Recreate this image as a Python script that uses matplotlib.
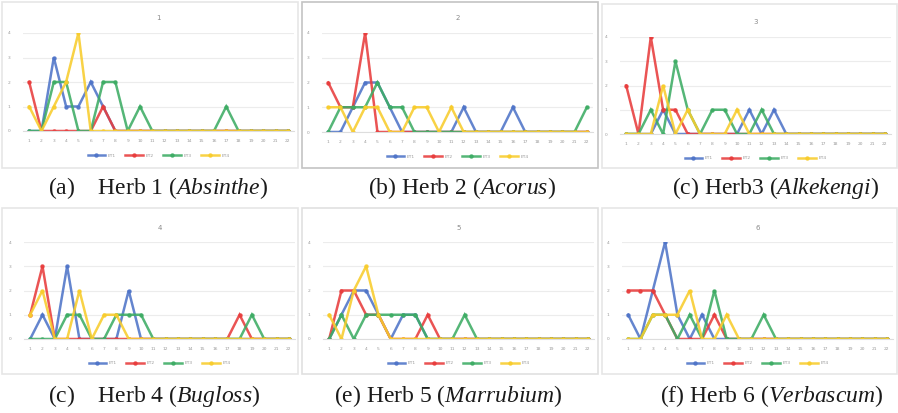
import matplotlib
matplotlib.use("Agg")
import matplotlib.pyplot as plt
from matplotlib.patches import Rectangle

plt.rcParams["font.family"] = ["DejaVu Sans"]
plt.rcParams["mathtext.fontset"] = "custom"
plt.rcParams["mathtext.rm"] = "Liberation Serif"
plt.rcParams["mathtext.it"] = "Liberation Serif:italic"

# Category labels along the x axis (22 sampling points)
x_labels = ["1", "2", "3", "4", "5", "6", "7", "8", "9", "10", "11",
            "12", "13", "14", "15", "16", "17", "18", "19", "20", "21", "22"]
series_names = ["ET1", "ET2", "ET3", "ET4"]

# Herb 1 (Absinthe)
h1_blue = [0, 0, 3, 1, 1, 2, 1, 0, 0, 0, 0, 0, 0, 0, 0, 0, 0, 0, 0, 0, 0, 0]
h1_red = [2, 0, 0, 0, 0, 0, 1, 0, 0, 0, 0, 0, 0, 0, 0, 0, 0, 0, 0, 0, 0, 0]
h1_green = [0, 0, 2, 2, 0, 0, 2, 2, 0, 1, 0, 0, 0, 0, 0, 0, 1, 0, 0, 0, 0, 0]
h1_yellow = [1, 0, 1, 2, 4, 0, 0, 0, 0, 0, 0, 0, 0, 0, 0, 0, 0, 0, 0, 0, 0, 0]

# Herb 2 (Acorus)
h2_blue = [0, 0, 1, 2, 2, 1, 0, 0, 0, 0, 0, 1, 0, 0, 0, 1, 0, 0, 0, 0, 0, 0]
h2_red = [2, 1, 1, 4, 0, 0, 0, 0, 0, 0, 0, 0, 0, 0, 0, 0, 0, 0, 0, 0, 0, 0]
h2_green = [0, 1, 1, 1, 2, 1, 1, 0, 0, 0, 0, 0, 0, 0, 0, 0, 0, 0, 0, 0, 0, 1]
h2_yellow = [1, 1, 0, 1, 1, 0, 0, 1, 1, 0, 1, 0, 0, 0, 0, 0, 0, 0, 0, 0, 0, 0]

# Herb 3 (Alkekengi)
h3_blue = [0, 0, 0, 1, 0, 0, 0, 0, 0, 0, 1, 0, 1, 0, 0, 0, 0, 0, 0, 0, 0, 0]
h3_red = [2, 0, 4, 1, 1, 0, 0, 0, 0, 0, 0, 0, 0, 0, 0, 0, 0, 0, 0, 0, 0, 0]
h3_green = [0, 0, 1, 0, 3, 1, 0, 1, 1, 0, 0, 1, 0, 0, 0, 0, 0, 0, 0, 0, 0, 0]
h3_yellow = [0, 0, 0, 2, 0, 1, 0, 0, 0, 1, 0, 0, 0, 0, 0, 0, 0, 0, 0, 0, 0, 0]

# Herb 4 (Bugloss)
h4_blue = [0, 1, 0, 3, 0, 0, 0, 0, 2, 0, 0, 0, 0, 0, 0, 0, 0, 0, 0, 0, 0, 0]
h4_red = [1, 3, 0, 0, 0, 0, 0, 0, 0, 0, 0, 0, 0, 0, 0, 0, 0, 1, 0, 0, 0, 0]
h4_green = [0, 0, 0, 1, 1, 0, 0, 1, 1, 1, 0, 0, 0, 0, 0, 0, 0, 0, 1, 0, 0, 0]
h4_yellow = [1, 2, 0, 0, 2, 0, 1, 1, 0, 0, 0, 0, 0, 0, 0, 0, 0, 0, 0, 0, 0, 0]

# Herb 5 (Marrubium)
h5_blue = [0, 1, 2, 2, 1, 0, 1, 1, 0, 0, 0, 0, 0, 0, 0, 0, 0, 0, 0, 0, 0, 0]
h5_red = [0, 2, 2, 1, 1, 0, 0, 0, 1, 0, 0, 0, 0, 0, 0, 0, 0, 0, 0, 0, 0, 0]
h5_green = [0, 1, 0, 1, 1, 1, 1, 1, 0, 0, 0, 1, 0, 0, 0, 0, 0, 0, 0, 0, 0, 0]
h5_yellow = [1, 0, 2, 3, 1, 0, 0, 0, 0, 0, 0, 0, 0, 0, 0, 0, 0, 0, 0, 0, 0, 0]

# Herb 6 (Verbascum)
h6_blue = [1, 0, 2, 4, 1, 0, 1, 0, 0, 0, 0, 0, 0, 0, 0, 0, 0, 0, 0, 0, 0, 0]
h6_red = [2, 2, 2, 1, 0, 0, 0, 1, 0, 0, 0, 0, 0, 0, 0, 0, 0, 0, 0, 0, 0, 0]
h6_green = [0, 0, 1, 1, 0, 1, 0, 2, 0, 0, 0, 1, 0, 0, 0, 0, 0, 0, 0, 0, 0, 0]
h6_yellow = [0, 0, 1, 1, 1, 2, 0, 0, 1, 0, 0, 0, 0, 0, 0, 0, 0, 0, 0, 0, 0, 0]

panel_titles = ["1", "2", "3", "4", "5", "6"]
captions = [
    ("(a)    Herb 1 (", "Absinthe"),
    ("(b) Herb 2 (", "Acorus"),
    ("(c) Herb3 (", "Alkekengi"),
    ("(c)    Herb 4 (", "Bugloss"),
    ("(e) Herb 5 (", "Marrubium"),
    ("(f) Herb 6 (", "Verbascum"),
]
panels = [
    (h1_blue, h1_red, h1_green, h1_yellow),
    (h2_blue, h2_red, h2_green, h2_yellow),
    (h3_blue, h3_red, h3_green, h3_yellow),
    (h4_blue, h4_red, h4_green, h4_yellow),
    (h5_blue, h5_red, h5_green, h5_yellow),
    (h6_blue, h6_red, h6_green, h6_yellow),
]
colors = ["#4f74c8", "#e83c3c", "#3dac64", "#f8cc2c"]

W, H = 898, 413
fig = plt.figure(figsize=(W / 100, H / 100), dpi=100)

# plot-area rectangles in pixels: left, right, top (y of value 4), bottom (y of value 0)
areas = [
    (23, 294, 33, 131),
    (322, 593, 33, 132),
    (620, 891, 37, 134),
    (24, 295, 242, 339),
    (323, 594, 242, 339),
    (622, 893, 242, 339),
]
# panel frames in pixels: left, top, right, bottom
frames = [
    (2, 2, 298, 168),
    (302, 2, 598, 168),
    (602, 4, 897, 168),
    (2, 208, 298, 374),
    (302, 208, 598, 374),
    (602, 208, 897, 374),
]
frame_colors = ["#e6e6e6", "#c4c4c4", "#e6e6e6", "#e6e6e6", "#e0e0e0", "#e6e6e6"]
caption_pos = [(48, 188), (368, 188), (672, 188), (48, 396), (334, 396), (660, 396)]

for (fl, ft, fr, fb), fc in zip(frames, frame_colors):
    fig.patches.append(Rectangle((fl / W, 1 - fb / H), (fr - fl) / W, (fb - ft) / H,
                                 transform=fig.transFigure, fill=False,
                                 edgecolor=fc, linewidth=1.2))

for i, (area, data) in enumerate(zip(areas, panels)):
    l, r, t, b = area
    ax = fig.add_axes([l / W, 1 - b / H, (r - l) / W, (b - t) / H])
    xs = list(range(len(x_labels)))
    for vals, col, name in zip(data, colors, series_names):
        ax.plot(xs, vals, color=col, lw=1.8, marker="o", ms=2.2, label=name,
                alpha=0.88, solid_joinstyle="miter")
    ax.set_xlim(-0.5, len(x_labels) - 0.5)
    ax.set_ylim(0, 4)
    ax.set_yticks([0, 1, 2, 3, 4])
    ax.set_xticks(xs)
    ax.set_xticklabels(x_labels)
    ax.tick_params(axis="both", length=0, labelsize=3.2, colors="#9a9a9a")
    ax.tick_params(axis="y", pad=9)
    ax.tick_params(axis="x", pad=6)
    ax.grid(axis="y", color="#ececec", lw=0.8)
    ax.set_axisbelow(True)
    for s in ["top", "right", "left"]:
        ax.spines[s].set_visible(False)
    ax.spines["bottom"].set_color("#dddddd")
    ax.set_title(panel_titles[i], fontsize=5, color="#8a8a8a", pad=9)
    ax.legend(loc="center", bbox_to_anchor=(0.5, -0.25), ncol=4, frameon=False,
              fontsize=3.2, handlelength=4, columnspacing=2.2, handletextpad=0.5,
              labelcolor="#9a9a9a")

for (cx, cy), (plain, ital) in zip(caption_pos, captions):
    fig.text(cx / W, 1 - cy / H, plain + r"$\mathit{" + ital + "}$" + ")",
             fontsize=17, family="Liberation Serif", va="center", ha="left",
             color="#1a1a1a")

fig.savefig("out.png", dpi=100, facecolor="white")
